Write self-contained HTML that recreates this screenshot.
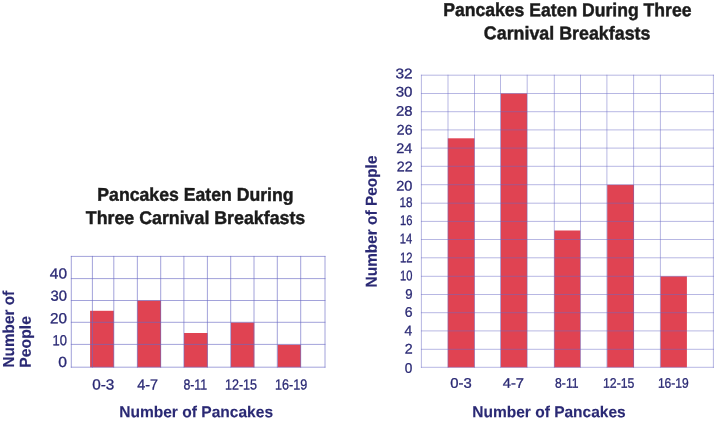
<!DOCTYPE html>
<html lang="en"><head><meta charset="utf-8"><title>Pancakes Eaten During Three Carnival Breakfasts</title>
<style>
html,body{margin:0;padding:0;background:#fff;}
body{width:714px;height:422px;overflow:hidden;}
svg{display:block;will-change:transform;text-rendering:geometricPrecision;font-family:"Liberation Sans",sans-serif;}
</style></head><body>
<svg width="714" height="422" viewBox="0 0 714 422">
<rect width="714" height="422" fill="#ffffff"/>
<g id="left-chart">
<rect x="90.1" y="310.8" width="23.8" height="56.5" fill="#e04352"/>
<rect x="137.3" y="300.5" width="23.7" height="66.8" fill="#e04352"/>
<rect x="184.0" y="333.0" width="23.7" height="34.3" fill="#e04352"/>
<rect x="231.0" y="322.5" width="23.3" height="44.8" fill="#e04352"/>
<rect x="277.6" y="344.7" width="23.3" height="22.6" fill="#e04352"/>
<g stroke="#6a6ac4" stroke-width="0.95" fill="none" opacity="0.66">
<path d="M71.3 255.95V367.65M92.4 255.95V367.65M113.8 255.95V367.65M137.35 255.95V367.65M160.7 255.95V367.65M183.9 255.95V367.65M207.4 255.95V367.65M230.7 255.95V367.65M254.0 255.95V367.65M277.3 255.95V367.65M300.7 255.95V367.65M325.0 255.95V367.65M70.85 256.4H325.45M70.85 278.6H325.45M70.85 300.5H325.45M70.85 322.3H325.45M70.85 344.4H325.45M70.85 367.2H325.45"/>
</g>
<text x="49.85" y="278.55" transform="rotate(0.04 49.85 278.55)" font-size="14.6" fill="#2a2974" stroke="#2a2974" stroke-width="0.3" textLength="17.16" lengthAdjust="spacingAndGlyphs">40</text>
<text x="50.54" y="300.85" transform="rotate(0.04 50.54 300.85)" font-size="14.6" fill="#2a2974" stroke="#2a2974" stroke-width="0.3" textLength="16.44" lengthAdjust="spacingAndGlyphs">30</text>
<text x="50.03" y="323.15" transform="rotate(0.04 50.03 323.15)" font-size="14.6" fill="#2a2974" stroke="#2a2974" stroke-width="0.3" textLength="16.96" lengthAdjust="spacingAndGlyphs">20</text>
<text x="52.51" y="345.35" transform="rotate(0.04 52.51 345.35)" font-size="14.6" fill="#2a2974" stroke="#2a2974" stroke-width="0.3" textLength="14.39" lengthAdjust="spacingAndGlyphs">10</text>
<text x="58.29" y="366.95" transform="rotate(0.04 58.29 366.95)" font-size="14.6" fill="#2a2974" stroke="#2a2974" stroke-width="0.3" textLength="8.73" lengthAdjust="spacingAndGlyphs">0</text>
<text x="92.20" y="389.55" transform="rotate(0.04 92.20 389.55)" font-size="14.6" fill="#2a2974" stroke="#2a2974" stroke-width="0.3" textLength="22.07" lengthAdjust="spacingAndGlyphs">0-3</text>
<text x="137.27" y="389.55" transform="rotate(0.04 137.27 389.55)" font-size="14.6" fill="#2a2974" stroke="#2a2974" stroke-width="0.3" textLength="20.75" lengthAdjust="spacingAndGlyphs">4-7</text>
<text x="183.38" y="389.55" transform="rotate(0.04 183.38 389.55)" font-size="14.6" fill="#2a2974" stroke="#2a2974" stroke-width="0.3" textLength="23.80" lengthAdjust="spacingAndGlyphs">8-11</text>
<text x="224.94" y="389.55" transform="rotate(0.04 224.94 389.55)" font-size="14.6" fill="#2a2974" stroke="#2a2974" stroke-width="0.3" textLength="32.08" lengthAdjust="spacingAndGlyphs">12-15</text>
<text x="275.04" y="389.55" transform="rotate(0.04 275.04 389.55)" font-size="14.6" fill="#2a2974" stroke="#2a2974" stroke-width="0.3" textLength="32.15" lengthAdjust="spacingAndGlyphs">16-19</text>
<text x="119.16" y="417.19" transform="rotate(0.04 119.16 417.19)" font-size="15.9" fill="#2a2974" font-weight="bold" stroke="#2a2974" stroke-width="0.12" textLength="153.88" lengthAdjust="spacingAndGlyphs">Number of Pancakes</text>
<g transform="rotate(-89.96)">
<text x="-367.53" y="14.24" font-size="15.9" fill="#2a2974" font-weight="bold" stroke="#2a2974" stroke-width="0.12" textLength="76.70" lengthAdjust="spacingAndGlyphs">Number of</text>
<text x="-367.65" y="31.04" font-size="15.9" fill="#2a2974" font-weight="bold" stroke="#2a2974" stroke-width="0.12" textLength="51.59" lengthAdjust="spacingAndGlyphs">People</text>
</g>
<text x="97.32" y="200.78" transform="rotate(0.04 97.32 200.78)" font-size="18.4" fill="#1b1b1b" font-weight="bold" stroke="#1b1b1b" stroke-width="0.45" textLength="196.26" lengthAdjust="spacingAndGlyphs">Pancakes Eaten During</text>
<text x="85.80" y="223.98" transform="rotate(0.04 85.80 223.98)" font-size="18.4" fill="#1b1b1b" font-weight="bold" stroke="#1b1b1b" stroke-width="0.45" textLength="219.43" lengthAdjust="spacingAndGlyphs">Three Carnival Breakfasts</text>
</g>
<g id="right-chart">
<rect x="447.8" y="138.3" width="26.8" height="229.1" fill="#e04352"/>
<rect x="500.8" y="93.4" width="26.3" height="274.0" fill="#e04352"/>
<rect x="554.2" y="230.5" width="26.2" height="136.9" fill="#e04352"/>
<rect x="607.2" y="184.8" width="26.8" height="182.6" fill="#e04352"/>
<rect x="660.5" y="276.3" width="26.4" height="91.1" fill="#e04352"/>
<g stroke="#6a6ac4" stroke-width="0.9" fill="none" opacity="0.54">
<path d="M421.4 74.75V367.75M448.0 74.75V367.75M474.5 74.75V367.75M500.5 74.75V367.75M527.2 74.75V367.75M554.3 74.75V367.75M580.5 74.75V367.75M606.9 74.75V367.75M633.6 74.75V367.75M660.4 74.75V367.75M713.4 74.75V367.75M420.95 75.2H714M420.95 93.5H714M420.95 111.7H714M420.95 129.9H714M420.95 148.1H714M420.95 166.3H714M420.95 184.7H714M420.95 203.2H714M420.95 221.4H714M420.95 239.5H714M420.95 257.8H714M420.95 276.3H714M420.95 294.5H714M420.95 312.7H714M420.95 330.9H714M420.95 349.3H714M420.95 367.3H714"/>
</g>
<text x="395.51" y="78.35" transform="rotate(0.04 395.51 78.35)" font-size="13.9" fill="#2a2974" stroke="#2a2974" stroke-width="0.3" textLength="17.16" lengthAdjust="spacingAndGlyphs">32</text>
<text x="395.73" y="96.45" transform="rotate(0.04 395.73 96.45)" font-size="13.9" fill="#2a2974" stroke="#2a2974" stroke-width="0.3" textLength="16.76" lengthAdjust="spacingAndGlyphs">30</text>
<text x="396.05" y="115.65" transform="rotate(0.04 396.05 115.65)" font-size="13.9" fill="#2a2974" stroke="#2a2974" stroke-width="0.3" textLength="16.49" lengthAdjust="spacingAndGlyphs">28</text>
<text x="396.89" y="134.55" transform="rotate(0.04 396.89 134.55)" font-size="13.9" fill="#2a2974" stroke="#2a2974" stroke-width="0.3" textLength="15.62" lengthAdjust="spacingAndGlyphs">26</text>
<text x="396.27" y="153.05" transform="rotate(0.04 396.27 153.05)" font-size="13.9" fill="#2a2974" stroke="#2a2974" stroke-width="0.3" textLength="16.05" lengthAdjust="spacingAndGlyphs">24</text>
<text x="396.68" y="171.35" transform="rotate(0.04 396.68 171.35)" font-size="13.9" fill="#2a2974" stroke="#2a2974" stroke-width="0.3" textLength="15.94" lengthAdjust="spacingAndGlyphs">22</text>
<text x="396.27" y="190.45" transform="rotate(0.04 396.27 190.45)" font-size="13.9" fill="#2a2974" stroke="#2a2974" stroke-width="0.3" textLength="16.20" lengthAdjust="spacingAndGlyphs">20</text>
<text x="399.41" y="206.95" transform="rotate(0.04 399.41 206.95)" font-size="13.9" fill="#2a2974" stroke="#2a2974" stroke-width="0.3" textLength="13.00" lengthAdjust="spacingAndGlyphs">18</text>
<text x="399.95" y="224.95" transform="rotate(0.04 399.95 224.95)" font-size="13.9" fill="#2a2974" stroke="#2a2974" stroke-width="0.3" textLength="12.44" lengthAdjust="spacingAndGlyphs">16</text>
<text x="399.75" y="243.15" transform="rotate(0.04 399.75 243.15)" font-size="13.9" fill="#2a2974" stroke="#2a2974" stroke-width="0.3" textLength="12.48" lengthAdjust="spacingAndGlyphs">14</text>
<text x="399.94" y="262.25" transform="rotate(0.04 399.94 262.25)" font-size="13.9" fill="#2a2974" stroke="#2a2974" stroke-width="0.3" textLength="12.52" lengthAdjust="spacingAndGlyphs">12</text>
<text x="399.95" y="280.25" transform="rotate(0.04 399.95 280.25)" font-size="13.9" fill="#2a2974" stroke="#2a2974" stroke-width="0.3" textLength="12.38" lengthAdjust="spacingAndGlyphs">10</text>
<text x="405.18" y="298.65" transform="rotate(0.04 405.18 298.65)" font-size="13.9" fill="#2a2974" stroke="#2a2974" stroke-width="0.3" textLength="7.34" lengthAdjust="spacingAndGlyphs">9</text>
<text x="404.68" y="316.85" transform="rotate(0.04 404.68 316.85)" font-size="13.9" fill="#2a2974" stroke="#2a2974" stroke-width="0.3" textLength="7.83" lengthAdjust="spacingAndGlyphs">6</text>
<text x="404.58" y="335.35" transform="rotate(0.04 404.58 335.35)" font-size="13.9" fill="#2a2974" stroke="#2a2974" stroke-width="0.3" textLength="7.73" lengthAdjust="spacingAndGlyphs">4</text>
<text x="404.68" y="353.55" transform="rotate(0.04 404.68 353.55)" font-size="13.9" fill="#2a2974" stroke="#2a2974" stroke-width="0.3" textLength="7.94" lengthAdjust="spacingAndGlyphs">2</text>
<text x="404.87" y="372.65" transform="rotate(0.04 404.87 372.65)" font-size="13.9" fill="#2a2974" stroke="#2a2974" stroke-width="0.3" textLength="7.56" lengthAdjust="spacingAndGlyphs">0</text>
<text x="450.22" y="387.75" transform="rotate(0.04 450.22 387.75)" font-size="13.9" fill="#2a2974" stroke="#2a2974" stroke-width="0.3" textLength="21.43" lengthAdjust="spacingAndGlyphs">0-3</text>
<text x="502.76" y="387.75" transform="rotate(0.04 502.76 387.75)" font-size="13.9" fill="#2a2974" stroke="#2a2974" stroke-width="0.3" textLength="21.28" lengthAdjust="spacingAndGlyphs">4-7</text>
<text x="555.09" y="387.75" transform="rotate(0.04 555.09 387.75)" font-size="13.9" fill="#2a2974" stroke="#2a2974" stroke-width="0.3" textLength="23.48" lengthAdjust="spacingAndGlyphs">8-11</text>
<text x="602.96" y="387.75" transform="rotate(0.04 602.96 387.75)" font-size="13.9" fill="#2a2974" stroke="#2a2974" stroke-width="0.3" textLength="31.45" lengthAdjust="spacingAndGlyphs">12-15</text>
<text x="657.88" y="387.75" transform="rotate(0.04 657.88 387.75)" font-size="13.9" fill="#2a2974" stroke="#2a2974" stroke-width="0.3" textLength="30.89" lengthAdjust="spacingAndGlyphs">16-19</text>
<text x="472.26" y="417.19" transform="rotate(0.04 472.26 417.19)" font-size="15.9" fill="#2a2974" font-weight="bold" stroke="#2a2974" stroke-width="0.12" textLength="153.47" lengthAdjust="spacingAndGlyphs">Number of Pancakes</text>
<g transform="rotate(-89.96)">
<text x="-287.13" y="376.94" font-size="15.9" fill="#2a2974" font-weight="bold" stroke="#2a2974" stroke-width="0.12" textLength="131.86" lengthAdjust="spacingAndGlyphs">Number of People</text>
</g>
<text x="443.22" y="16.07" transform="rotate(0.04 443.22 16.07)" font-size="18.6" fill="#1b1b1b" font-weight="bold" stroke="#1b1b1b" stroke-width="0.45" textLength="248.28" lengthAdjust="spacingAndGlyphs">Pancakes Eaten During Three</text>
<text x="483.87" y="39.37" transform="rotate(0.04 483.87 39.37)" font-size="18.6" fill="#1b1b1b" font-weight="bold" stroke="#1b1b1b" stroke-width="0.45" textLength="166.56" lengthAdjust="spacingAndGlyphs">Carnival Breakfasts</text>
</g>
</svg></body></html>
